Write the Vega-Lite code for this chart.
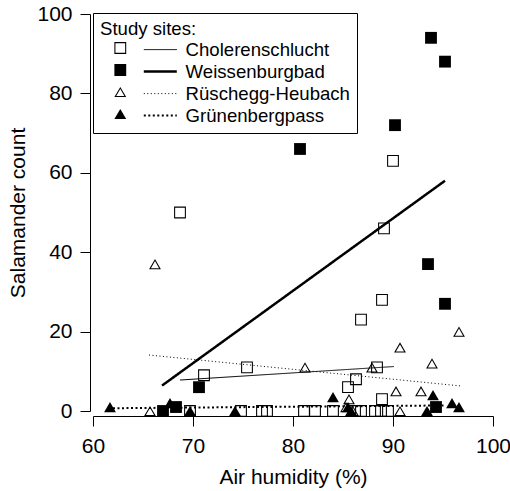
{
  "$schema": "https://vega.github.io/schema/vega-lite/v6.json",
  "width": 400,
  "height": 397,
  "autosize": {"type": "none"},
  "padding": {"left": 93, "top": 14, "right": 17, "bottom": 80},
  "config": {
    "view": {"stroke": null},
    "font": "Liberation Sans",
    "axis": {
      "grid": false,
      "domainColor": "black",
      "tickColor": "black",
      "labelColor": "black",
      "titleColor": "black",
      "labelFont": "Liberation Sans",
      "titleFont": "Liberation Sans",
      "labelFontSize": 21,
      "titleFontSize": 21,
      "titleFontWeight": "normal",
      "tickSize": 10,
      "domainWidth": 1,
      "tickWidth": 1
    },
    "legend": {
      "labelFont": "Liberation Sans",
      "titleFont": "Liberation Sans",
      "labelColor": "black",
      "titleColor": "black",
      "labelFontSize": 18.6,
      "titleFontSize": 18.6,
      "titleFontWeight": "normal",
      "labelFontWeight": "normal",
      "labelLimit": 300
    }
  },
  "datasets": {
    "points": [
      {"site": "Cholerenschlucht", "humidity": 68.7, "count": 50},
      {"site": "Cholerenschlucht", "humidity": 90.0, "count": 63},
      {"site": "Cholerenschlucht", "humidity": 89.1, "count": 46},
      {"site": "Cholerenschlucht", "humidity": 88.9, "count": 28},
      {"site": "Cholerenschlucht", "humidity": 86.8, "count": 23},
      {"site": "Cholerenschlucht", "humidity": 71.1, "count": 9},
      {"site": "Cholerenschlucht", "humidity": 75.4, "count": 11},
      {"site": "Cholerenschlucht", "humidity": 88.4, "count": 11},
      {"site": "Cholerenschlucht", "humidity": 86.3, "count": 8},
      {"site": "Cholerenschlucht", "humidity": 85.5, "count": 6},
      {"site": "Cholerenschlucht", "humidity": 88.9, "count": 3},
      {"site": "Cholerenschlucht", "humidity": 69.7, "count": 0},
      {"site": "Cholerenschlucht", "humidity": 74.8, "count": 0},
      {"site": "Cholerenschlucht", "humidity": 76.9, "count": 0},
      {"site": "Cholerenschlucht", "humidity": 77.4, "count": 0},
      {"site": "Cholerenschlucht", "humidity": 81.1, "count": 0},
      {"site": "Cholerenschlucht", "humidity": 82.2, "count": 0},
      {"site": "Cholerenschlucht", "humidity": 84.0, "count": 0},
      {"site": "Cholerenschlucht", "humidity": 86.2, "count": 0},
      {"site": "Cholerenschlucht", "humidity": 86.8, "count": 0},
      {"site": "Cholerenschlucht", "humidity": 88.2, "count": 0},
      {"site": "Cholerenschlucht", "humidity": 88.8, "count": 0},
      {"site": "Cholerenschlucht", "humidity": 89.5, "count": 0},
      {"site": "Weissenburgbad", "humidity": 67.0, "count": 0},
      {"site": "Weissenburgbad", "humidity": 68.3, "count": 1},
      {"site": "Weissenburgbad", "humidity": 70.6, "count": 6},
      {"site": "Weissenburgbad", "humidity": 80.7, "count": 66},
      {"site": "Weissenburgbad", "humidity": 90.2, "count": 72},
      {"site": "Weissenburgbad", "humidity": 93.5, "count": 37},
      {"site": "Weissenburgbad", "humidity": 93.8, "count": 94},
      {"site": "Weissenburgbad", "humidity": 94.3, "count": 1},
      {"site": "Weissenburgbad", "humidity": 95.2, "count": 88},
      {"site": "Weissenburgbad", "humidity": 95.2, "count": 27},
      {"site": "Rüschegg-Heubach", "humidity": 65.7, "count": 0},
      {"site": "Rüschegg-Heubach", "humidity": 66.2, "count": 37},
      {"site": "Rüschegg-Heubach", "humidity": 81.2, "count": 11},
      {"site": "Rüschegg-Heubach", "humidity": 85.3, "count": 1},
      {"site": "Rüschegg-Heubach", "humidity": 85.6, "count": 3},
      {"site": "Rüschegg-Heubach", "humidity": 86.0, "count": 0},
      {"site": "Rüschegg-Heubach", "humidity": 87.9, "count": 11},
      {"site": "Rüschegg-Heubach", "humidity": 90.3, "count": 5},
      {"site": "Rüschegg-Heubach", "humidity": 90.7, "count": 16},
      {"site": "Rüschegg-Heubach", "humidity": 90.7, "count": 0},
      {"site": "Rüschegg-Heubach", "humidity": 92.8, "count": 5},
      {"site": "Rüschegg-Heubach", "humidity": 93.9, "count": 12},
      {"site": "Rüschegg-Heubach", "humidity": 96.6, "count": 20},
      {"site": "Grünenbergpass", "humidity": 61.7, "count": 1},
      {"site": "Grünenbergpass", "humidity": 67.7, "count": 2},
      {"site": "Grünenbergpass", "humidity": 69.7, "count": 0},
      {"site": "Grünenbergpass", "humidity": 74.2, "count": 0},
      {"site": "Grünenbergpass", "humidity": 84.0, "count": 3.5},
      {"site": "Grünenbergpass", "humidity": 85.5, "count": 1},
      {"site": "Grünenbergpass", "humidity": 85.8, "count": 0},
      {"site": "Grünenbergpass", "humidity": 93.4, "count": 0},
      {"site": "Grünenbergpass", "humidity": 94.0, "count": 4},
      {"site": "Grünenbergpass", "humidity": 95.9, "count": 2},
      {"site": "Grünenbergpass", "humidity": 96.6, "count": 1}
    ],
    "lines": [
      {"site": "Cholerenschlucht", "humidity": 68.7, "count": 7.8},
      {"site": "Cholerenschlucht", "humidity": 90.1, "count": 11.2},
      {"site": "Weissenburgbad", "humidity": 66.9, "count": 6.4},
      {"site": "Weissenburgbad", "humidity": 95.2, "count": 58.0},
      {"site": "Rüschegg-Heubach", "humidity": 65.6, "count": 14.1},
      {"site": "Rüschegg-Heubach", "humidity": 96.8, "count": 6.3},
      {"site": "Grünenbergpass", "humidity": 62.0, "count": 0.7},
      {"site": "Grünenbergpass", "humidity": 95.3, "count": 1.4}
    ]
  },
  "layer": [
    {
      "data": {"name": "lines"},
      "mark": {"type": "line", "color": "black"},
      "encoding": {
        "x": {
          "field": "humidity", "type": "quantitative",
          "scale": {"domain": [60, 100], "nice": false, "zero": false},
          "axis": {"values": [60, 70, 80, 90, 100], "title": "Air humidity (%)", "offset": 5, "labelPadding": 9, "titlePadding": 10, "labelFlush": false, "labelOverlap": false}
        },
        "y": {
          "field": "count", "type": "quantitative",
          "scale": {"domain": [0, 100], "nice": false, "zero": false},
          "axis": {"values": [0, 20, 40, 60, 80, 100], "title": "Salamander count", "offset": 3, "labelPadding": 8, "titlePadding": 8, "labelFlush": false}
        },
        "detail": {"field": "site"},
        "strokeDash": {
          "field": "site", "type": "nominal",
          "sort": ["Cholerenschlucht", "Weissenburgbad", "Rüschegg-Heubach", "Grünenbergpass"],
          "scale": {"range": [[1, 0], [1, 0], [1, 2.5], [2, 2.5]]},
          "legend": {"title": "Study sites:", "orient": "none", "legendX": 0, "legendY": -1, "symbolType": "stroke", "symbolSize": 1089, "symbolStrokeColor": "black", "symbolOffset": 51, "labelOffset": 16, "clipHeight": 18, "rowPadding": 3, "titlePadding": 2, "padding": 7, "strokeColor": "black",
            "encode": {"symbols": {"update": {"strokeWidth": {"signal": "datum.value === 'Weissenburgbad' ? 2.5 : datum.value === 'Grünenbergpass' ? 2 : 1"}, "stroke": {"value": "black"}}}}}
        },
        "strokeWidth": {
          "field": "site", "type": "nominal",
          "sort": ["Cholerenschlucht", "Weissenburgbad", "Rüschegg-Heubach", "Grünenbergpass"],
          "scale": {"type": "ordinal", "range": [1, 2.5, 1, 2]},
          "legend": null
        }
      }
    },
    {
      "data": {"name": "points"},
      "mark": {"type": "point", "filled": true, "color": "black", "size": 140, "opacity": 1},
      "encoding": {
        "x": {"field": "humidity", "type": "quantitative"},
        "y": {"field": "count", "type": "quantitative"},
        "shape": {
          "field": "site", "type": "nominal",
          "scale": {
            "domain": ["Cholerenschlucht", "Weissenburgbad", "Rüschegg-Heubach", "Grünenbergpass"],
            "range": [
              "M-1,-1H1V1H-1Z M-0.82,-0.82V0.82H0.82V-0.82Z",
              "square",
              "M0,-0.866L-1,0.866L1,0.866Z M0,-0.506L0.688,0.686L-0.688,0.686Z",
              "triangle-up"
            ]
          },
          "legend": {"title": null, "orient": "none", "legendX": 18, "legendY": 25, "labelExpr": "''", "symbolSize": 140, "clipHeight": 18, "rowPadding": 3, "padding": 0, "symbolFillColor": "black", "symbolStrokeWidth": 0, "symbolOpacity": 1}
        }
      }
    }
  ]
}
